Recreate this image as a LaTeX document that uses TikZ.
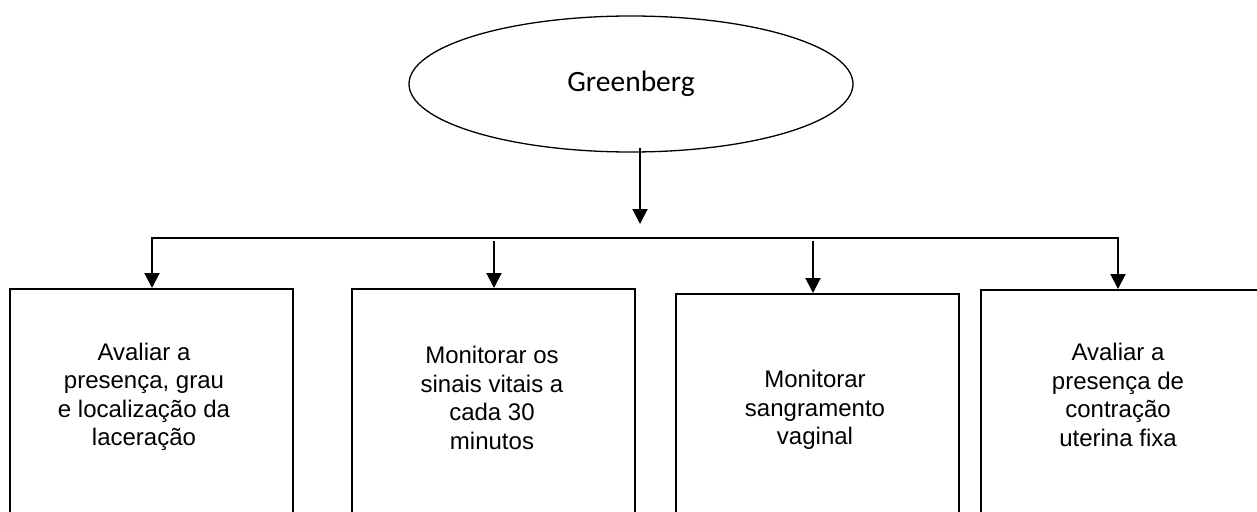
\documentclass[tikz,border=0pt]{standalone}
\usepackage{fontspec}
\setmainfont{Liberation Sans}
\newfontfamily\calfont{Carlito}
\usetikzlibrary{shapes.geometric,arrows.meta}
\begin{document}
\begin{tikzpicture}[x=1pt,y=-1pt,
  boxnode/.style={draw,line width=1.6pt,rectangle,inner sep=0pt,anchor=north west},
  lbl/.style={align=center,font=\fontsize{24}{28.5}\selectfont,inner sep=0pt},
  arr/.style={line width=2pt,-{Triangle[width=15pt,length=15pt]}},
  busline/.style={line width=2pt}]
\clip (0,0) rectangle (1257,511);
\useasboundingbox (0,0) rectangle (1257,511);
\node[draw,ellipse,line width=1.3pt,minimum width=444pt,minimum height=136pt,inner sep=0pt,
  font=\calfont\fontsize{29.5}{33}\selectfont] (e) at (631,84) {Greenberg};
\node[boxnode,minimum width=283pt,minimum height=280pt] (b1) at (9,288) {};
\node[boxnode,minimum width=283pt,minimum height=280pt] (b2) at (351,288) {};
\node[boxnode,minimum width=283pt,minimum height=280pt] (b3) at (675,293) {};
\node[boxnode,minimum width=283pt,minimum height=280pt] (b4) at (980,289) {};
\node[lbl] (l1) at (144,397) {Avaliar a\\presença, grau\\e localização da\\laceração};
\node[lbl] (l2) at (492,398) {Monitorar os\\sinais vitais a\\cada 30\\minutos};
\node[lbl] (l3) at (815,410) {Monitorar\\sangramento\\vaginal};
\node[lbl] (l4) at (1118,395) {Avaliar a\\presença de\\contração\\uterina fixa};
\coordinate (t0) at (640,238);
\coordinate (t1) at (152,238);
\coordinate (t2) at (494,238);
\coordinate (t3) at (813,238);
\coordinate (t4) at (1118,238);
\draw[busline] (t1) -- (t4);
\draw[arr] ([yshift=5pt]e.south -| t0) -- ([yshift=14pt]t0);
\draw[arr] ([yshift=1pt]t1) -- (t1 |- b1.north);
\draw[arr] ([yshift=-3pt]t2) -- (t2 |- b2.north);
\draw[arr] ([yshift=-3pt]t3) -- (t3 |- b3.north);
\draw[arr] ([yshift=1pt]t4) -- (t4 |- b4.north);
\end{tikzpicture}
\end{document}
